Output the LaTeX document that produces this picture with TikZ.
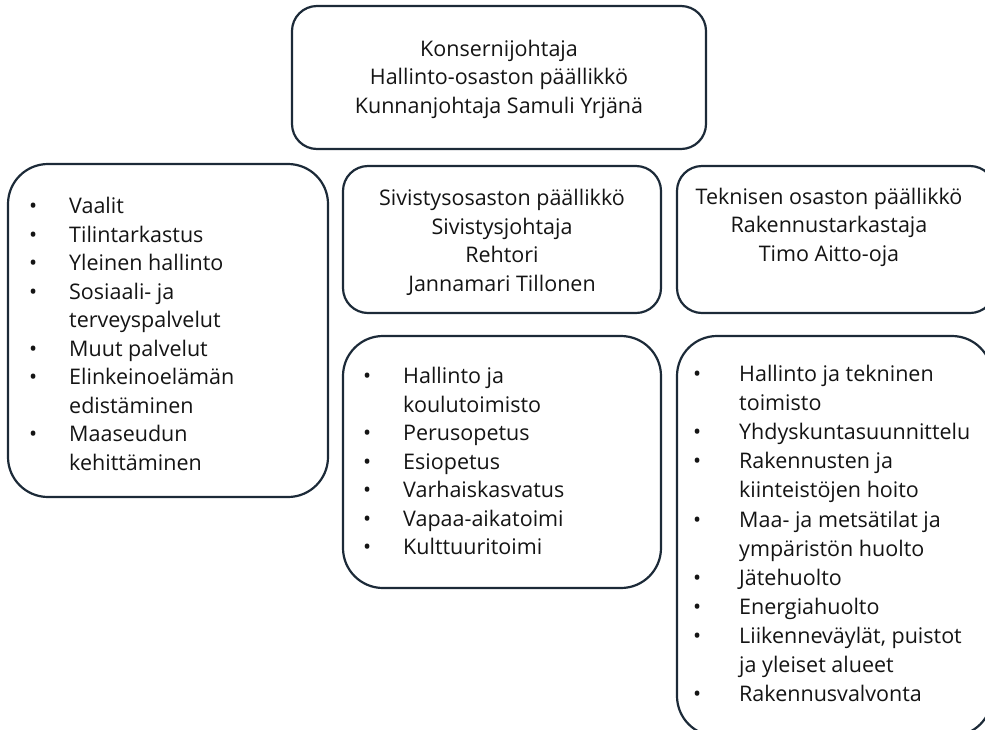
\documentclass[tikz,border=0pt]{standalone}
\usepackage{fontspec}
\setmainfont{Open Sans}
\usetikzlibrary{positioning}

\definecolor{rimcol}{RGB}{28,42,56}
\definecolor{inkcol}{RGB}{20,20,20}
\newcommand{\bul}{\makebox[40pt][l]{\textbullet}}
\newcommand{\cnt}{\hspace*{40pt}}
\newcommand{\wbul}{\makebox[46pt][l]{\textbullet}}
\newcommand{\wcnt}{\hspace*{46pt}}

\begin{document}
\begin{tikzpicture}[x=1pt,y=-1pt,
  box/.style={draw=rimcol, line width=2.2pt, rounded corners=#1, inner sep=0pt},
  box/.default=25pt,
  txt/.style={text=inkcol, font=\fontsize{21.5}{28.5}\selectfont, inner sep=0pt},
  list/.style={txt, align=left, anchor=north west}]
\clip (0,0) rectangle (985,729);
\useasboundingbox (0,0) rectangle (985,729);

% boxes
\draw[box] (292,6) rectangle (706,149);
\draw[box=40pt] (8,164) rectangle (328,497);
\draw[box] (343,166) rectangle (661,313);
\draw[box] (677,166) rectangle (995,313);
\draw[box=40pt] (343,336) rectangle (661,588);
\draw[box=40pt] (677,336) rectangle (992,736);

% titles
\node[txt, align=center] (chief) at (499,79) {Konsernijohtaja\\Hallinto-osaston päällikkö\\Kunnanjohtaja Samuli Yrjänä};
\node[txt, align=center] (civic) at (502,242.5) {Sivistysosaston päällikkö\\Sivistysjohtaja\\Rehtori\\Jannamari Tillonen};
\node[txt, align=center] (tech) at (829,227) {Teknisen osaston päällikkö\\Rakennustarkastaja\\Timo Aitto-oja};

% task lists
\node[list] (admin) at (29,197) {\bul Vaalit\\\bul Tilintarkastus\\\bul Yleinen hallinto\\\bul Sosiaali- ja\\\cnt terveyspalvelut\\\bul Muut palvelut\\\bul Elinkeinoelämän\\\cnt edistäminen\\\bul Maaseudun\\\cnt kehittäminen};
\node[list] (school) at (363,367) {\bul Hallinto ja\\\cnt koulutoimisto\\\bul Perusopetus\\\bul Esiopetus\\\bul Varhaiskasvatus\\\bul Vapaa-aikatoimi\\\bul Kulttuuritoimi};
\node[list, font=\fontsize{21.5}{29.1}\selectfont] (works) at (693,365) {\wbul Hallinto ja tekninen\\\wcnt toimisto\\\wbul Yhdyskuntasuunnittelu\\\wbul Rakennusten ja\\\wcnt kiinteistöjen hoito\\\wbul Maa- ja metsätilat ja\\\wcnt ympäristön huolto\\\wbul Jätehuolto\\\wbul Energiahuolto\\\wbul Liikenneväylät, puistot\\\wcnt ja yleiset alueet\\\wbul Rakennusvalvonta};
\end{tikzpicture}
\end{document}
